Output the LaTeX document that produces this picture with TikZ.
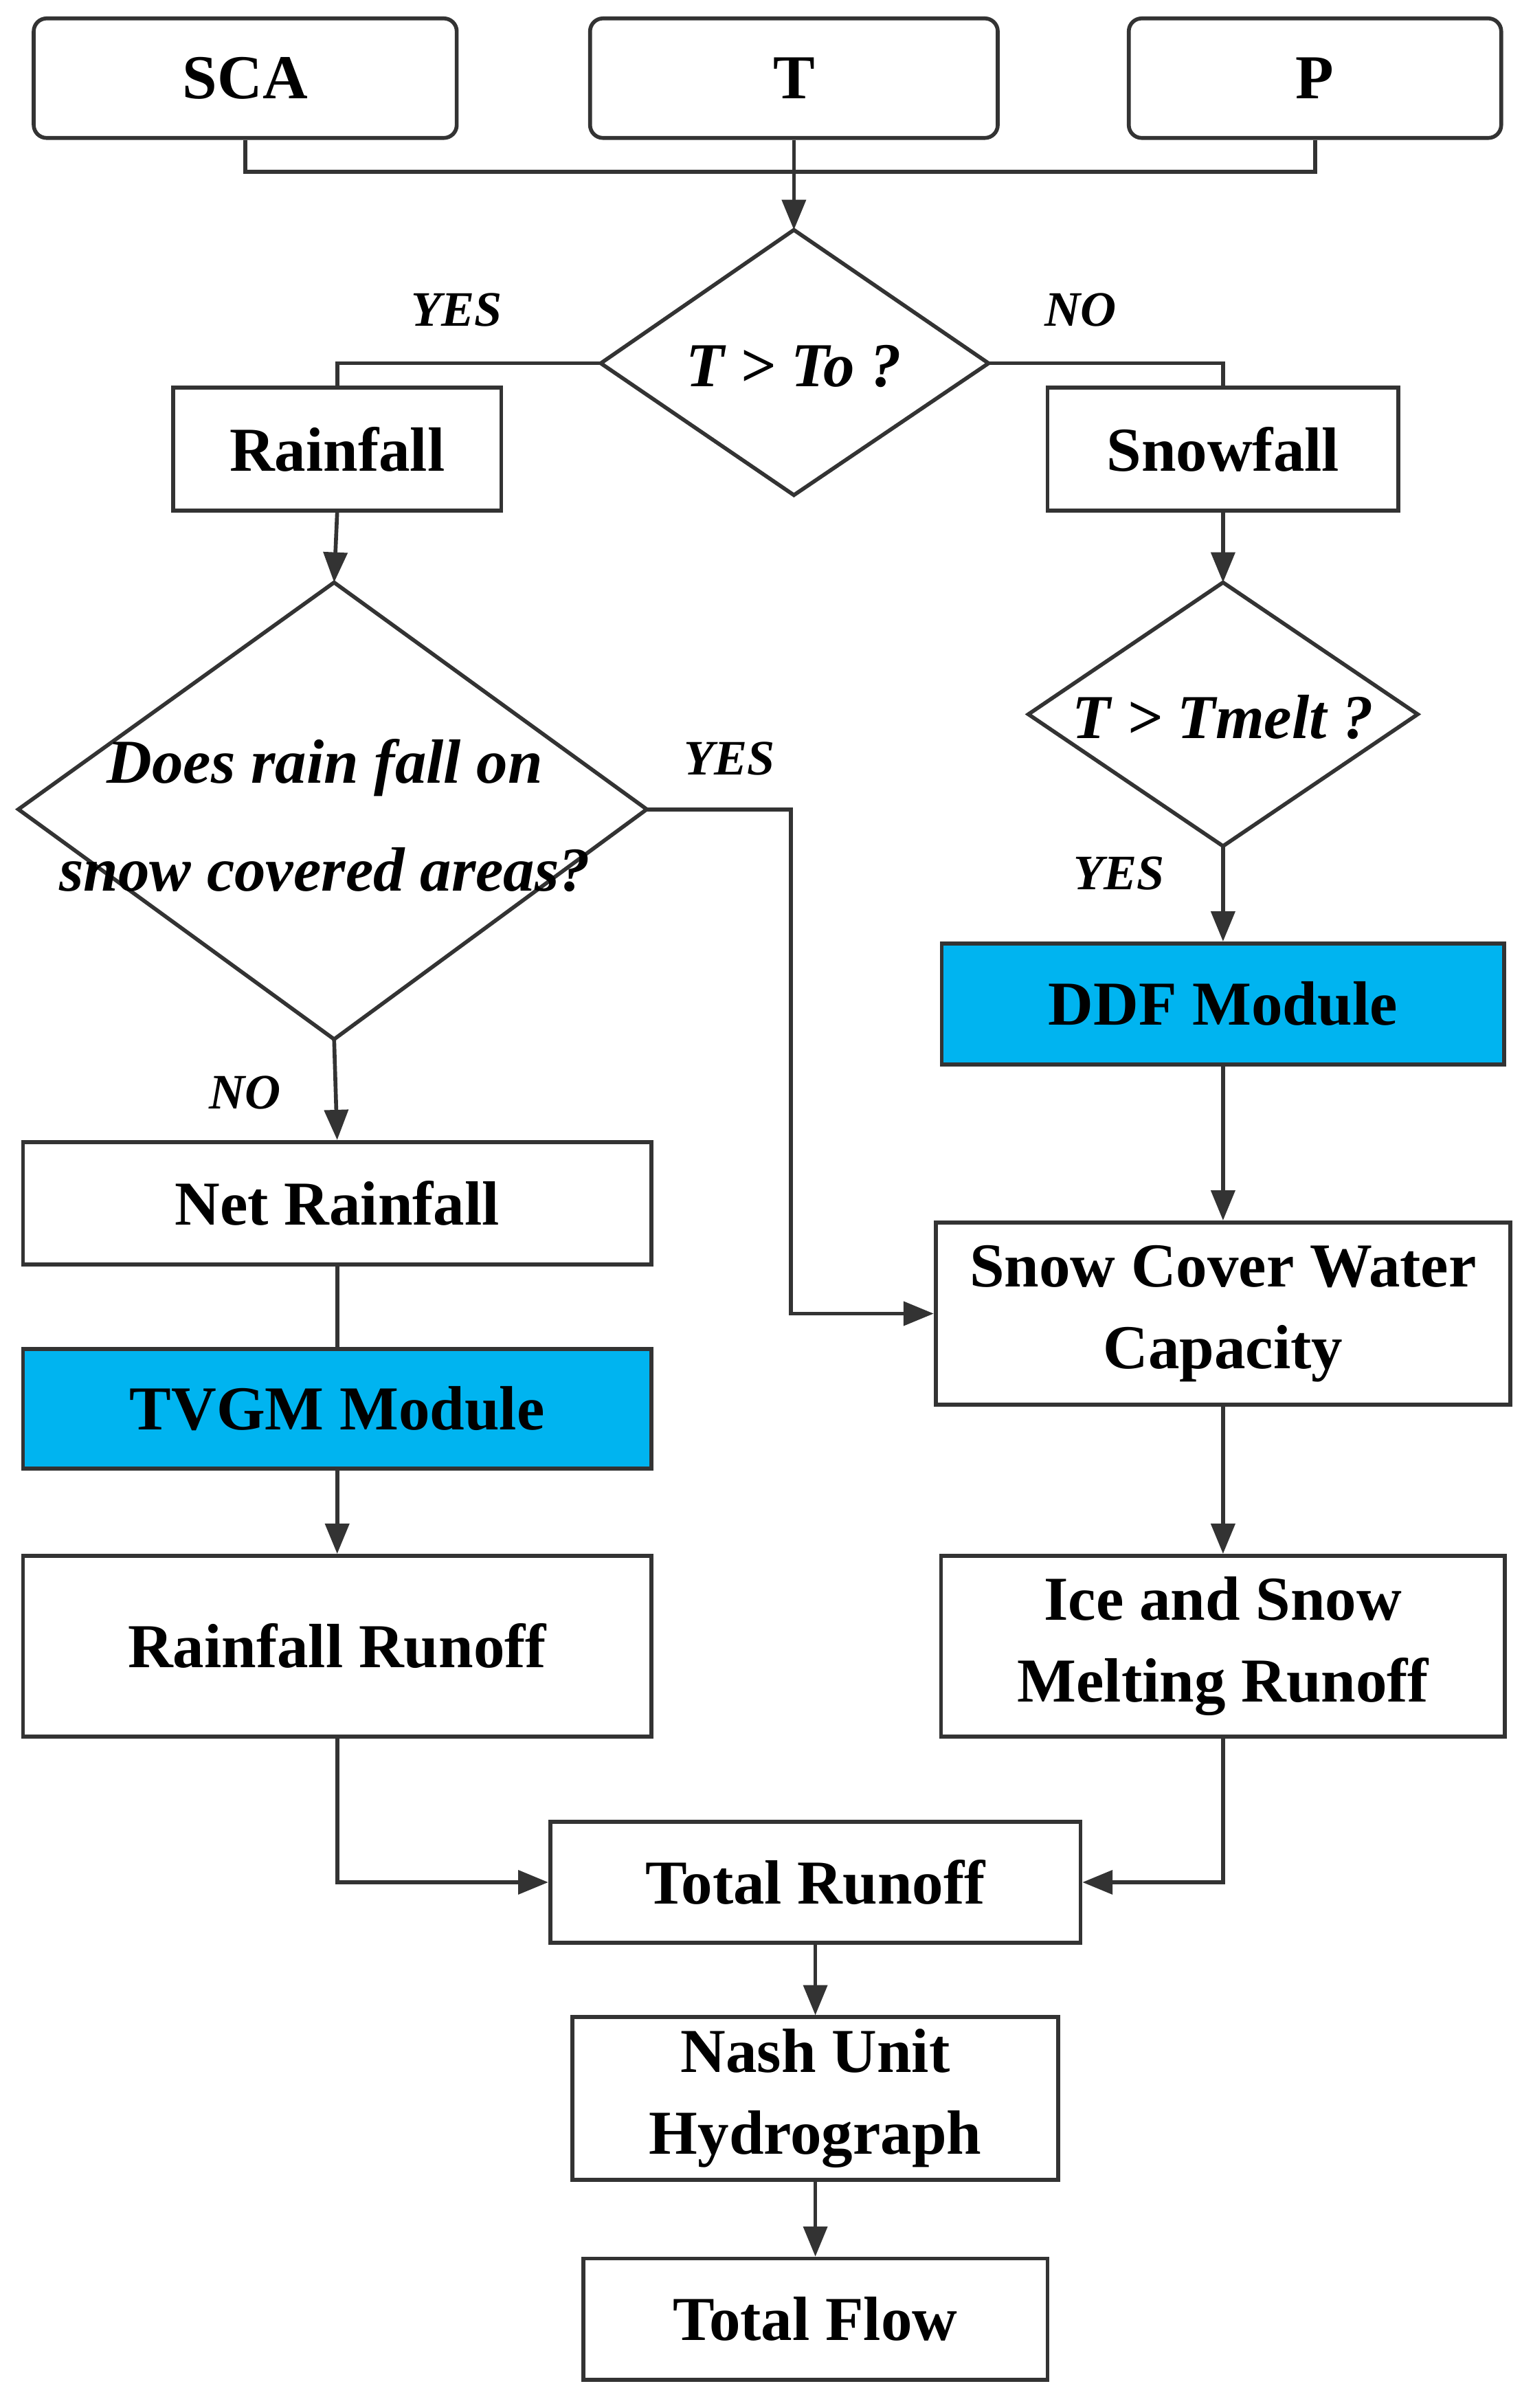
\documentclass[tikz,border=0pt]{standalone}
\usepackage{fontspec}
\setmainfont{Liberation Serif}
\usetikzlibrary{arrows.meta}
\definecolor{ln}{HTML}{333333}
\definecolor{cy}{HTML}{00B4F0}
\begin{document}
\begin{tikzpicture}[x=0.025cm,y=-0.025cm,line width=1.8pt,draw=ln,
 box/.style 2 args={draw=ln,line width=1.8pt,minimum width=#1*0.025cm,minimum height=#2*0.025cm,inner sep=0pt,align=center,font=\fontsize{29}{38}\selectfont\bfseries},
 rbox/.style 2 args={box={#1}{#2},rounded corners=6pt},
 lab/.style={font=\fontsize{23}{26}\selectfont\itshape\bfseries},
 dtext/.style={font=\fontsize{29}{50}\selectfont\itshape\bfseries,align=center},
 arr/.style={-{Triangle[length=14pt,width=11pt]},draw=ln}]
\useasboundingbox (0,0) rectangle (1000,1571);
\node[rbox={276}{78}] (sca) at (160,51) {SCA};
\node[rbox={266}{78}] (t) at (518,51) {T};
\node[rbox={243}{78}] (p) at (858,51) {P};
\coordinate (j) at (518,112);
\draw (sca.south) |- (j) -| (p.south);
\draw (t.south) -- (j);
% diamond 1
\coordinate (d1t) at (518,150); \coordinate (d1b) at (518,323);
\coordinate (d1l) at (392,237); \coordinate (d1r) at (645,237);
\draw (d1t)--(d1r)--(d1b)--(d1l)--cycle;
\draw[arr] (j) -- (d1t);
\node[dtext] (d1) at (518,239) {T > To ?};
\node[box={214}{80}] (rain) at (220,293) {Rainfall};
\node[box={229}{80}] (snow) at (798,293) {Snowfall};
\draw (d1l) -| (rain.north);
\draw (d1r) -| (snow.north);
\node[lab] (y1) at (298,202) {YES};
\node[lab] (n1) at (705,202) {NO};
% diamond 2
\coordinate (d2t) at (218,380); \coordinate (d2b) at (218,678);
\coordinate (d2l) at (12,528); \coordinate (d2r) at (422,528);
\draw (d2t)--(d2r)--(d2b)--(d2l)--cycle;
\node[dtext] (d2) at (212,532) {Does rain fall on\\snow covered areas?};
\draw[arr] (rain.south) -- (d2t);
\node[lab] (y2) at (476,495) {YES};
\node[lab] (n2) at (160,713) {NO};
% diamond 3
\coordinate (d3t) at (798,380); \coordinate (d3b) at (798,552);
\coordinate (d3l) at (671,466); \coordinate (d3r) at (925,466);
\draw (d3t)--(d3r)--(d3b)--(d3l)--cycle;
\node[dtext] (d3) at (798,468) {T > Tmelt ?};
\draw[arr] (snow.south) -- (d3t);
\node[lab] (y3) at (730,570) {YES};
% left column
\node[box={410}{80}] (net) at (220,785) {Net Rainfall};
\node[box={410}{78},fill=cy] (tvgm) at (220,919) {TVGM Module};
\node[box={410}{118}] (rr) at (220,1074) {Rainfall Runoff};
\draw[arr] (d2b) -- (net.north);
\draw (net.south) -- (tvgm.north);
\draw[arr] (tvgm.south) -- (rr.north);
% right column
\node[box={367}{79},fill=cy] (ddf) at (798,655) {DDF Module};
\node[box={375}{119}] (scwc) at (798,857) {Snow Cover Water\\Capacity};
\node[box={368}{118}] (ice) at (798,1074) {Ice and Snow\\Melting Runoff};
\draw[arr] (d3b) -- (ddf.north);
\draw[arr] (ddf.south) -- (scwc.north);
\draw[arr] (scwc.south) -- (ice.north);
\coordinate (k) at (516,528);
\draw[arr] (d2r) -- (k) |- (scwc.west);
% bottom
\node[box={346}{79}] (tr) at (532,1228) {Total Runoff};
\node[box={317}{106}] (nash) at (532,1369) {Nash Unit\\Hydrograph};
\node[box={303}{79}] (tf) at (532,1513) {Total Flow};
\draw[arr] (rr.south) |- (tr.west);
\draw[arr] (ice.south) |- (tr.east);
\draw[arr] (tr.south) -- (nash.north);
\draw[arr] (nash.south) -- (tf.north);
\end{tikzpicture}
\end{document}
